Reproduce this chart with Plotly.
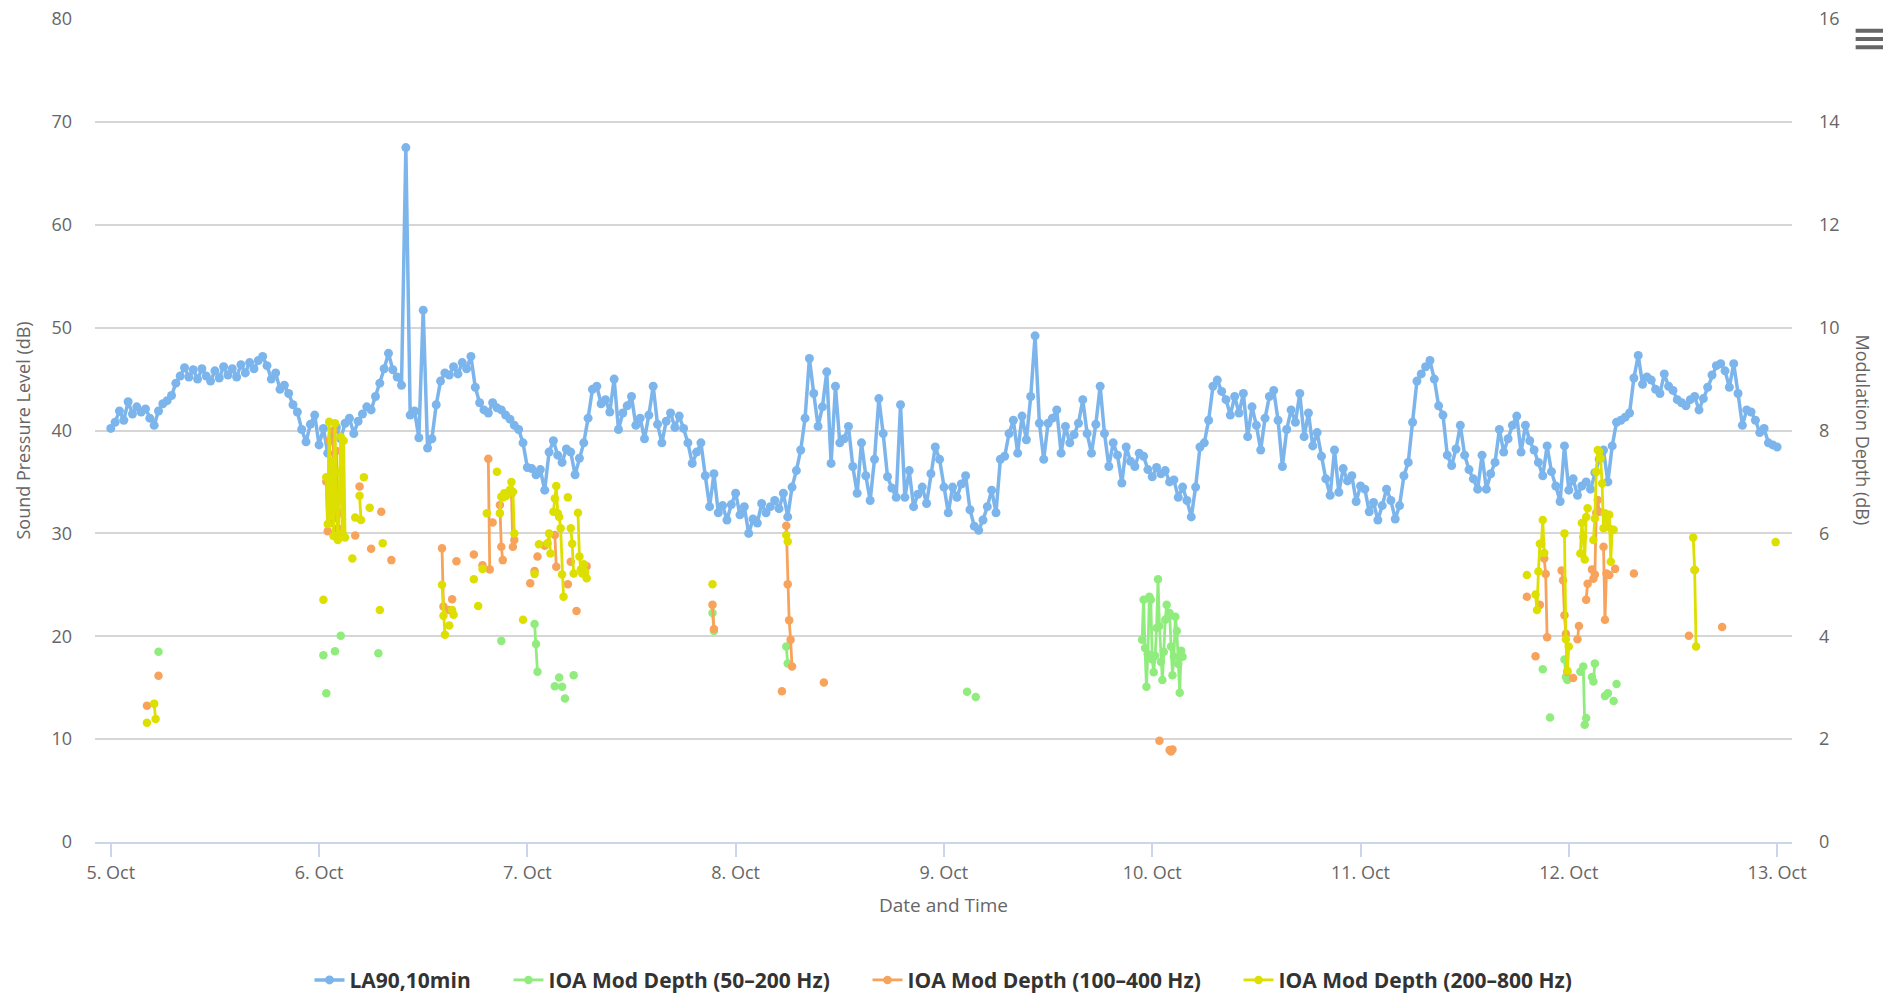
import pandas as pd
import plotly.graph_objects as go

# LA90,10min (dB) at 30 min steps
la90_oct05 = [40.2, 40.8, 41.9, 41.0, 42.8, 41.6, 42.3, 41.8, 42.1, 41.2, 40.5, 41.9,
              42.6, 42.9, 43.4, 44.6, 45.3, 46.1, 45.2, 45.9, 45.0, 46.0, 45.3, 44.8,
              45.8, 45.1, 46.2, 45.4, 46.0, 45.2, 46.4, 45.6, 46.6, 46.0, 46.8, 47.2,
              46.3, 45.0, 45.6, 44.0, 44.4, 43.6, 42.5, 41.8, 40.1, 38.9, 40.6, 41.5]
la90_oct06 = [38.6, 40.2, 37.8, 39.5, 40.3, 39.2, 40.7, 41.2, 39.7, 40.9, 41.6, 42.3,
              42.0, 43.3, 44.6, 46.0, 47.5, 45.9, 45.2, 44.4, 67.5, 41.5, 41.9, 39.3,
              51.7, 38.3, 39.2, 42.5, 44.8, 45.6, 45.4, 46.2, 45.5, 46.6, 46.0, 47.2,
              44.2, 42.7, 42.0, 41.7, 42.7, 42.2, 42.0, 41.5, 41.1, 40.5, 40.1, 38.8]
la90_oct07 = [36.4, 36.3, 35.7, 36.2, 34.2, 37.9, 39.0, 37.6, 36.9, 38.2, 37.9, 35.7,
              37.3, 38.8, 41.2, 44.0, 44.3, 42.6, 43.0, 41.8, 45.0, 40.1, 41.7, 42.4,
              43.3, 40.5, 41.2, 39.2, 41.5, 44.3, 40.6, 38.8, 40.9, 41.7, 40.3, 41.4,
              40.2, 38.8, 36.8, 37.9, 38.8, 35.6, 32.6, 35.8, 32.0, 32.7, 31.3, 32.8]
la90_oct08 = [33.9, 31.8, 32.6, 30.0, 31.4, 31.0, 32.9, 32.0, 32.6, 33.2, 32.4, 33.9,
              31.6, 34.5, 36.1, 38.1, 41.2, 47.0, 43.6, 40.4, 42.3, 45.7, 36.8, 44.3,
              38.8, 39.2, 40.4, 36.5, 33.9, 38.8, 35.6, 33.2, 37.2, 43.1, 39.7, 35.5,
              34.4, 33.5, 42.5, 33.5, 36.1, 32.6, 33.8, 34.5, 32.9, 35.8, 38.4, 37.2]
la90_oct09 = [34.5, 32.0, 34.5, 33.5, 34.8, 35.6, 32.3, 30.7, 30.3, 31.3, 32.6, 34.2,
              32.0, 37.2, 37.5, 39.7, 41.0, 37.8, 41.4, 39.1, 43.3, 49.2, 40.7, 37.2,
              40.7, 41.2, 42.0, 37.8, 40.4, 38.8, 39.6, 40.7, 43.0, 39.7, 37.8, 40.6,
              44.3, 39.7, 36.5, 38.8, 37.6, 34.9, 38.4, 37.0, 36.5, 37.8, 37.5, 36.2]
la90_oct10 = [35.5, 36.4, 35.8, 36.1, 35.0, 35.2, 33.5, 34.5, 33.2, 31.6, 34.5, 38.4,
              38.8, 41.0, 44.3, 44.9, 43.8, 43.0, 41.5, 43.3, 41.7, 43.6, 39.4, 42.3,
              40.5, 38.1, 41.2, 43.3, 43.9, 41.0, 36.5, 40.1, 42.0, 40.8, 43.6, 39.4,
              41.7, 38.5, 39.8, 37.5, 35.3, 33.7, 38.1, 34.0, 36.3, 35.1, 35.6, 33.1]
la90_oct11 = [34.6, 34.3, 32.1, 33.0, 31.3, 32.7, 34.3, 33.2, 31.4, 32.7, 35.6, 36.9,
              40.8, 44.8, 45.5, 46.2, 46.8, 45.0, 42.4, 41.5, 37.6, 36.6, 38.2, 40.5,
              37.6, 36.2, 35.3, 34.3, 37.6, 34.3, 35.8, 36.9, 40.1, 37.9, 39.2, 40.5,
              41.4, 37.9, 40.5, 39.0, 38.1, 36.9, 35.6, 38.5, 36.0, 34.6, 33.1, 38.5]
la90_oct12 = [34.2, 35.3, 33.7, 34.6, 35.0, 34.3, 35.9, 37.2, 38.1, 35.0, 38.5, 40.8,
              41.0, 41.3, 41.7, 45.1, 47.3, 44.5, 45.2, 44.9, 44.0, 43.6, 45.5, 44.3,
              43.9, 43.0, 42.7, 42.4, 43.0, 43.3, 42.0, 43.1, 44.2, 45.4, 46.3, 46.5,
              45.8, 44.2, 46.5, 43.6, 40.5, 42.0, 41.8, 41.0, 39.8, 40.2, 38.8, 38.6]
la90_oct13 = [38.4]

# IOA modulation depth (dB), 10 min values; missing intervals are gaps
ioa_50_200_t = [
    "10-05 05:30", "10-06 00:30", "10-06 00:50", "10-06 01:50", "10-06 02:30", "10-06 06:50",
    "10-06 21:00", "10-07 00:50", "10-07 01:00", "10-07 01:10", "10-07 03:10", "10-07 03:40",
    "10-07 04:00", "10-07 04:20", "10-07 05:20", "10-07 21:20", "10-07 21:30", "10-08 05:50",
    "10-08 06:00", "10-09 02:40", "10-09 03:40",
    "10-09 22:50", "10-09 23:00", "10-09 23:10", "10-09 23:20", "10-09 23:30", "10-09 23:40",
    "10-09 23:50", "10-10 00:00", "10-10 00:10", "10-10 00:20", "10-10 00:30", "10-10 00:40",
    "10-10 00:50", "10-10 01:00", "10-10 01:10", "10-10 01:20", "10-10 01:30", "10-10 01:40",
    "10-10 01:50", "10-10 02:00", "10-10 02:10", "10-10 02:20", "10-10 02:30", "10-10 02:40",
    "10-10 02:50", "10-10 03:00", "10-10 03:10", "10-10 03:20", "10-10 03:30",
    "10-11 21:00", "10-11 21:50", "10-11 23:30", "10-11 23:40", "10-11 23:50", "10-12 01:20",
    "10-12 01:40", "10-12 01:50", "10-12 02:00", "10-12 02:40", "10-12 02:50", "10-12 03:00",
    "10-12 04:10", "10-12 04:30", "10-12 05:10", "10-12 05:30",
]
ioa_50_200_v = [
    3.70, 3.63, 2.89, 3.71, 4.01, 3.67,
    3.91, 4.24, 3.85, 3.31, 3.03, 3.20,
    3.02, 2.79, 3.24, 4.45, 4.10, 3.80,
    3.47, 2.92, 2.82,
    3.93, 4.71, 3.77, 3.02, 3.65, 4.77,
    4.71, 3.55, 3.30, 3.62, 4.16, 5.11,
    4.20, 3.50, 3.15, 3.70, 4.32, 4.61,
    4.38, 4.45, 3.80, 3.24, 3.60, 4.38,
    4.10, 3.46, 2.90, 3.72, 3.60,
    3.36, 2.42, 3.55, 3.21, 3.15, 3.31,
    3.41, 2.28, 2.41, 3.21, 3.12, 3.47,
    2.84, 2.89, 2.74, 3.07,
]

ioa_100_400_t = [
    "10-05 04:10", "10-05 05:30", "10-06 00:50", "10-06 01:00", "10-06 01:10", "10-06 01:20",
    "10-06 01:30", "10-06 01:40", "10-06 01:50", "10-06 02:00", "10-06 02:10", "10-06 02:20",
    "10-06 04:10", "10-06 04:40", "10-06 06:00", "10-06 07:10", "10-06 08:20", "10-06 14:10",
    "10-06 14:20", "10-06 15:00", "10-06 15:20", "10-06 15:50", "10-06 17:50", "10-06 18:50",
    "10-06 19:30", "10-06 19:40", "10-06 20:00", "10-06 20:50", "10-06 21:00", "10-06 21:10",
    "10-06 22:10", "10-06 22:20", "10-06 22:30", "10-07 00:20", "10-07 00:50", "10-07 01:10",
    "10-07 02:00", "10-07 03:10", "10-07 03:20", "10-07 04:40", "10-07 05:00", "10-07 05:40",
    "10-07 06:50", "10-07 21:20", "10-07 21:30", "10-08 05:20", "10-08 05:50", "10-08 06:00",
    "10-08 06:10", "10-08 06:20", "10-08 06:30", "10-08 10:10", "10-10 00:50", "10-10 02:00",
    "10-10 02:10", "10-10 02:20", "10-11 19:10", "10-11 20:10", "10-11 20:40", "10-11 21:10",
    "10-11 21:20", "10-11 21:30", "10-11 23:10", "10-11 23:20", "10-11 23:30", "10-11 23:40",
    "10-11 23:50", "10-12 00:30", "10-12 01:00", "10-12 01:10", "10-12 02:00", "10-12 02:10",
    "10-12 02:40", "10-12 02:50", "10-12 03:00", "10-12 03:10", "10-12 03:20", "10-12 03:30",
    "10-12 04:00", "10-12 04:10", "10-12 04:20", "10-12 04:40", "10-12 05:20", "10-12 07:30",
    "10-12 13:50", "10-12 14:30", "10-12 17:40",
]
ioa_100_400_v = [
    2.65, 3.23, 7.01, 6.04, 7.80, 6.20,
    6.60, 8.00, 6.30, 7.60, 6.10, 6.40,
    5.96, 6.91, 5.70, 6.42, 5.48, 5.71,
    4.58, 4.51, 4.72, 5.46, 5.59, 5.38,
    7.45, 5.30, 6.21, 6.55, 5.74, 5.48,
    6.77, 5.74, 5.87, 5.03, 5.27, 5.55,
    5.76, 5.97, 5.35, 5.01, 5.45, 4.49,
    5.36, 4.61, 4.14, 2.93, 6.15, 5.01,
    4.31, 3.93, 3.41, 3.10, 1.97, 1.79,
    1.76, 1.80, 4.77, 3.61, 4.61, 5.51,
    5.21, 3.98, 5.28, 5.09, 4.41, 4.05,
    3.31, 3.19, 3.94, 4.20, 4.71, 5.02,
    5.30, 5.12, 5.20, 6.40, 6.65, 6.42,
    5.74, 4.32, 5.22, 5.19, 5.31, 5.22,
    4.01, 5.29, 4.18,
]

ioa_200_800_t = [
    "10-05 04:10", "10-05 05:00", "10-05 05:10", "10-06 00:30", "10-06 00:50", "10-06 01:00",
    "10-06 01:10", "10-06 01:20", "10-06 01:30", "10-06 01:40", "10-06 01:50", "10-06 02:00",
    "10-06 02:10", "10-06 02:20", "10-06 02:30", "10-06 02:40", "10-06 02:50", "10-06 03:00",
    "10-06 03:50", "10-06 04:10", "10-06 04:40", "10-06 04:50", "10-06 05:10", "10-06 05:50",
    "10-06 07:00", "10-06 07:20", "10-06 14:10", "10-06 14:20", "10-06 14:30", "10-06 15:00",
    "10-06 15:20", "10-06 15:30", "10-06 17:50", "10-06 18:20", "10-06 18:50", "10-06 19:20",
    "10-06 20:30", "10-06 20:50", "10-06 21:00", "10-06 21:10", "10-06 21:20", "10-06 21:30",
    "10-06 21:40", "10-06 21:50", "10-06 22:00", "10-06 22:10", "10-06 22:20", "10-06 22:30",
    "10-06 23:30", "10-07 00:50", "10-07 01:20", "10-07 02:20", "10-07 02:30", "10-07 02:40",
    "10-07 03:00", "10-07 03:10", "10-07 03:20", "10-07 03:30", "10-07 03:40", "10-07 03:50",
    "10-07 04:00", "10-07 04:10", "10-07 04:40", "10-07 05:00", "10-07 05:10", "10-07 05:20",
    "10-07 05:50", "10-07 06:00", "10-07 06:10", "10-07 06:20", "10-07 06:30", "10-07 06:40",
    "10-07 06:50", "10-07 21:20", "10-08 05:50", "10-08 06:00", "10-11 19:10", "10-11 20:10",
    "10-11 20:20", "10-11 20:30", "10-11 20:40", "10-11 20:50", "10-11 21:00", "10-11 21:10",
    "10-11 23:30", "10-11 23:40", "10-11 23:50", "10-12 00:00", "10-12 01:20", "10-12 01:30",
    "10-12 01:40", "10-12 01:50", "10-12 02:00", "10-12 02:10", "10-12 02:50", "10-12 03:00",
    "10-12 03:10", "10-12 03:20", "10-12 03:30", "10-12 03:40", "10-12 03:50", "10-12 04:00",
    "10-12 04:10", "10-12 04:20", "10-12 04:30", "10-12 04:40", "10-12 04:50", "10-12 05:00",
    "10-12 05:10", "10-12 14:20", "10-12 14:30", "10-12 14:40", "10-12 23:50",
]
ioa_200_800_v = [
    2.32, 2.69, 2.39, 4.71, 7.09, 6.18,
    8.17, 6.33, 7.40, 5.95, 8.14, 6.60,
    5.87, 7.20, 7.88, 6.00, 7.80, 5.92,
    5.51, 6.31, 6.73, 6.26, 7.09, 6.50,
    4.51, 5.81, 5.00, 4.40, 4.03, 4.21,
    4.51, 4.42, 5.11, 4.59, 5.31, 6.39,
    7.20, 6.39, 6.71, 6.70, 6.78, 6.72,
    6.75, 6.80, 6.85, 7.00, 6.81, 6.00,
    4.32, 5.21, 5.79, 5.81, 6.00, 5.61,
    6.42, 6.68, 6.92, 6.39, 6.32, 6.10,
    5.20, 4.77, 6.70, 6.10, 5.80, 5.22,
    6.40, 5.55, 5.30, 5.22, 5.40, 5.25,
    5.13, 5.01, 5.97, 5.84, 5.19, 4.81,
    4.51, 5.26, 5.80, 5.80, 6.26, 5.62,
    6.00, 3.94, 3.33, 3.80, 5.61, 6.20,
    5.93, 5.49, 6.32, 6.49, 5.87, 6.29,
    7.20, 7.62, 7.59, 7.46, 6.97, 6.10,
    6.39, 6.29, 6.13, 6.36, 5.45, 6.07,
    6.07, 5.92, 5.29, 3.80, 5.83,
]

YEAR = "2023"
BLUE, GREEN, ORANGE, YELLOW = "#7cb5ec", "#90ed7d", "#f7a35c", "#dddf00"
FONT = "Open Sans"
PAD = "\u00a0" * 6  # extra room between legend entries

la90 = (la90_oct05 + la90_oct06 + la90_oct07 + la90_oct08 + la90_oct09
        + la90_oct10 + la90_oct11 + la90_oct12 + la90_oct13)
la90_times = pd.date_range(f"{YEAR}-10-05 00:00", periods=len(la90), freq="30min")

grid = pd.date_range(f"{YEAR}-10-05 00:00", f"{YEAR}-10-13 00:00", freq="10min")


def on_grid(times, values):
    # put the 10 min values on a full grid so that missing steps break the line
    s = pd.Series(values, index=pd.to_datetime([f"{YEAR}-{t}" for t in times]))
    s = s.reindex(grid)
    first, last = s.first_valid_index(), s.last_valid_index()
    s = s[first:last]
    return s.index, s.values


fig = go.Figure()

fig.add_trace(go.Scatter(
    x=la90_times, y=la90, name="LA90,10min" + PAD, mode="lines+markers",
    line=dict(color=BLUE, width=3.5), marker=dict(color=BLUE, size=9),
))

for name, t, v, color in [
    ("IOA Mod Depth (50–200 Hz)" + PAD, ioa_50_200_t, ioa_50_200_v, GREEN),
    ("IOA Mod Depth (100–400 Hz)" + PAD, ioa_100_400_t, ioa_100_400_v, ORANGE),
    ("IOA Mod Depth (200–800 Hz)", ioa_200_800_t, ioa_200_800_v, YELLOW),
]:
    gx, gy = on_grid(t, v)
    fig.add_trace(go.Scatter(
        x=gx, y=gy, name=name, mode="lines+markers", yaxis="y2",
        connectgaps=False,
        line=dict(color=color, width=2.8), marker=dict(color=color, size=8.5),
    ))

# Highcharts style context menu icon, top right
for yy in [0.9858, 0.9758, 0.9658]:
    fig.add_shape(type="line", xref="paper", yref="paper",
                  x0=1.0375, x1=1.06, y0=yy, y1=yy,
                  line=dict(color="#666666", width=4))

fig.add_annotation(text="Date and Time", xref="paper", yref="paper",
                   x=0.5, y=-0.0766, yanchor="middle", showarrow=False,
                   font=dict(family=FONT, size=19, color="#666666"))
fig.add_annotation(text="Sound Pressure Level (dB)", xref="paper", yref="paper",
                   x=-0.043, y=0.5, xanchor="center", yanchor="middle",
                   textangle=-90, showarrow=False,
                   font=dict(family=FONT, size=18, color="#666666"))
fig.add_annotation(text="Modulation Depth (dB)", xref="paper", yref="paper",
                   x=1.0424, y=0.5, xanchor="center", yanchor="middle",
                   textangle=90, showarrow=False,
                   font=dict(family=FONT, size=18, color="#666666"))

fig.update_layout(
    width=1883, height=995,
    margin=dict(l=95, r=91, t=19, b=153, autoexpand=False),
    paper_bgcolor="white", plot_bgcolor="white",
    font=dict(family=FONT, color="#666666"),
    showlegend=True,
    legend=dict(orientation="h", x=0.5, xanchor="center", y=-0.168, yanchor="middle",
                font=dict(family=FONT, size=21, color="#333333", weight="bold"),
                itemwidth=30),
    xaxis=dict(
        type="date",
        range=[f"{YEAR}-10-04 22:11", f"{YEAR}-10-13 01:43"],
        tick0=f"{YEAR}-10-05", dtick=86400000, tickformat="%-d. %b",
        showgrid=False, showline=True, linecolor="#ccd6eb", linewidth=2,
        ticks="outside", ticklen=13, tickcolor="#ccd6eb", tickwidth=2,
        tickfont=dict(family=FONT, size=18, color="#666666"),
        zeroline=False,
    ),
    yaxis=dict(
        range=[0, 80], dtick=10, showgrid=True, gridcolor="#d6d6d6", gridwidth=1.5,
        zeroline=False, showline=False, ticks="", ticklabelstandoff=22,
        tickfont=dict(family=FONT, size=18, color="#666666"),
    ),
    yaxis2=dict(
        range=[0, 16], dtick=2, overlaying="y", side="right", showgrid=False,
        zeroline=False, showline=False, ticks="", ticklabelstandoff=26,
        tickfont=dict(family=FONT, size=18, color="#666666"),
    ),
)

fig.write_html("out.html", config={"displayModeBar": False},
               post_script="document.body.style.margin='0';")
